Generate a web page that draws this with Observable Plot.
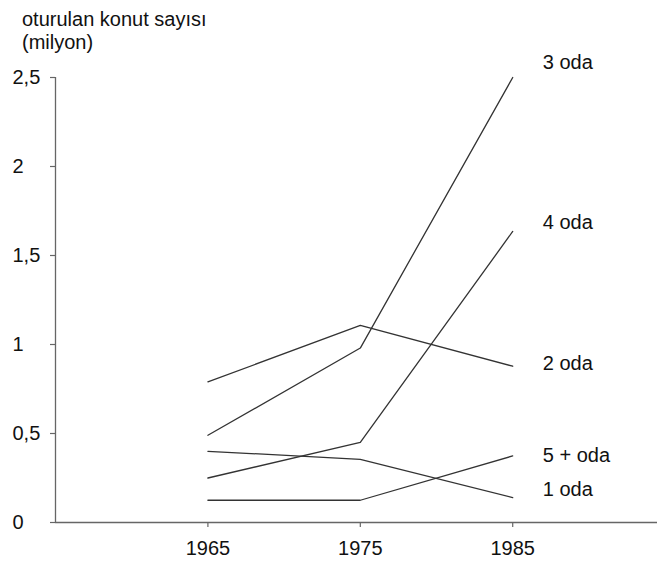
<!DOCTYPE html>
<html>
<head>
<meta charset="utf-8">
<script src="https://cdn.jsdelivr.net/npm/d3@7"></script>
<script src="https://cdn.jsdelivr.net/npm/@observablehq/plot@0.6"></script>
<style>
  html, body { margin: 0; padding: 0; background: #fff; overflow: hidden; }
  #wrap { position: relative; width: 657px; height: 561px; font-family: "Liberation Sans", Arial, sans-serif; }
  #title { position: absolute; left: 22px; top: 8px; font-size: 20px; line-height: 23px; color: #111; }
  #chart { position: absolute; left: 0; top: 0; }
</style>
</head>
<body>
<div id="wrap">
  <div id="chart"></div>
  <div id="title">oturulan konut sayısı<br>(milyon)</div>
</div>
<script>
const years = [1965, 1975, 1985];
const seriesNames = ["1 oda", "2 oda", "3 oda", "4 oda", "5 + oda"];
const oda1 = [0.40, 0.355, 0.14];
const oda2 = [0.79, 1.107, 0.878];
const oda3 = [0.49, 0.98, 2.50];
const oda4 = [0.25, 0.45, 1.635];
const oda5 = [0.125, 0.125, 0.374];
const yTicks = [0, 0.5, 1, 1.5, 2, 2.5];
const xTicks = [1965, 1975, 1985];

const valuesBySeries = [oda1, oda2, oda3, oda4, oda5];
const rows = [];
seriesNames.forEach((s, i) => years.forEach((yr, j) => rows.push({series: s, year: yr, value: valuesBySeries[i][j]})));
const lastRows = seriesNames.map((s, i) => ({series: s, year: years[years.length - 1], value: valuesBySeries[i][years.length - 1]}));
const labelDy = {"1 oda": -8, "2 oda": -3, "3 oda": -15, "4 oda": -9, "5 + oda": 0};

const lineColor = "#333";
const axisColor = "#666";
const W = 657, H = 561, ML = 55, MR = 0, MT = 77, MB = 39;
const tickLen = 5;

const labelMarks = lastRows.map(r => Plot.text([r], {
  x: "year", y: "value", text: "series", dx: 30, dy: labelDy[r.series],
  textAnchor: "start", fill: "#111", fontSize: 20
}));

const chart = Plot.plot({
  width: W,
  height: H,
  marginLeft: ML,
  marginRight: MR,
  marginTop: MT,
  marginBottom: MB,
  style: {fontFamily: "'Liberation Sans', Arial, sans-serif", fontSize: "20px", background: "#fff", color: "#111"},
  x: {domain: [1955, 1994.5], axis: null},
  y: {domain: [0, 2.5], axis: null},
  marks: [
    Plot.ruleY([0], {stroke: axisColor, strokeWidth: 1.3}),
    Plot.ruleX([1955], {y1: 0, y2: 2.5, stroke: axisColor, strokeWidth: 1.3}),
    Plot.axisY({
      ticks: yTicks, tickSize: tickLen, tickPadding: 38, textAnchor: "start",
      tickFormat: d => String(d).replace(".", ","),
      stroke: axisColor, strokeWidth: 1.2,
      fill: "#111", fontSize: 20, label: null
    }),
    Plot.axisX({
      ticks: xTicks, tickSize: tickLen, tickPadding: 13,
      tickFormat: d => String(d),
      stroke: axisColor, strokeWidth: 1.2,
      fill: "#111", fontSize: 20, label: null
    }),
    Plot.line(rows, {x: "year", y: "value", z: "series", stroke: lineColor, strokeWidth: 1.3}),
    ...labelMarks
  ]
});
document.getElementById("chart").appendChild(chart);
</script>
</body>
</html>
